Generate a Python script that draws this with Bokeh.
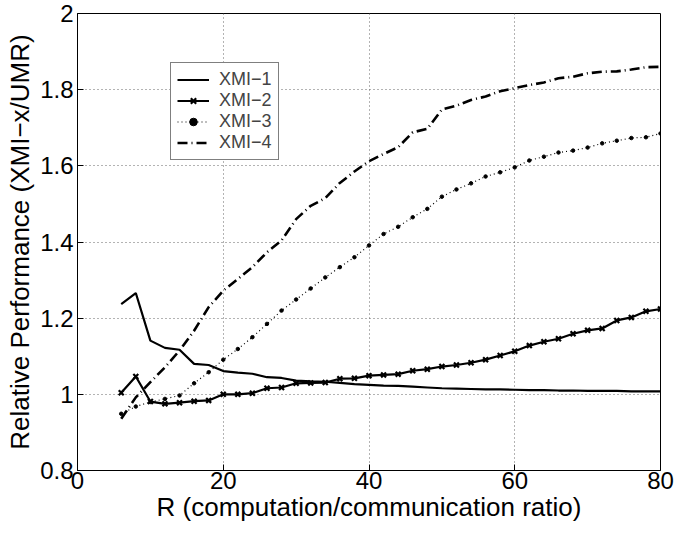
from bokeh.plotting import figure
from bokeh.models import (Range1d, FixedTicker, CustomJSTickFormatter, Legend, LegendItem)
from bokeh.embed import file_html
from bokeh.resources import INLINE

# ---- data ----
R = list(range(6, 82, 2))

xmi1 = [1.237, 1.266, 1.141, 1.122, 1.117, 1.080, 1.077, 1.061, 1.057, 1.054,
        1.045, 1.043, 1.036, 1.034, 1.033, 1.030, 1.027, 1.025, 1.023, 1.022,
        1.020, 1.018, 1.016, 1.015, 1.014, 1.013, 1.013, 1.012, 1.011, 1.011,
        1.010, 1.010, 1.009, 1.009, 1.009, 1.008, 1.008, 1.008]

xmi2 = [1.004, 1.047, 0.981, 0.975, 0.978, 0.982, 0.984, 1.000, 1.000, 1.003,
        1.016, 1.018, 1.029, 1.030, 1.031, 1.041, 1.042, 1.049, 1.051, 1.053,
        1.062, 1.066, 1.073, 1.077, 1.083, 1.091, 1.102, 1.113, 1.128, 1.138,
        1.146, 1.159, 1.168, 1.173, 1.194, 1.202, 1.218, 1.224]

xmi3 = [0.949, 0.968, 0.980, 0.988, 0.997, 1.029, 1.058, 1.091, 1.119, 1.150,
        1.185, 1.220, 1.249, 1.278, 1.307, 1.334, 1.360, 1.391, 1.421, 1.440,
        1.465, 1.487, 1.519, 1.538, 1.554, 1.572, 1.583, 1.596, 1.614, 1.624,
        1.635, 1.640, 1.648, 1.659, 1.666, 1.673, 1.675, 1.685]

xmi4 = [0.936, 0.992, 1.032, 1.071, 1.115, 1.167, 1.229, 1.272, 1.303, 1.334,
        1.373, 1.404, 1.460, 1.495, 1.515, 1.555, 1.585, 1.612, 1.631, 1.649,
        1.688, 1.697, 1.748, 1.758, 1.773, 1.782, 1.796, 1.804, 1.812, 1.819,
        1.830, 1.834, 1.843, 1.847, 1.848, 1.853, 1.859, 1.860]

labels = ["XMI\u22121", "XMI\u22122", "XMI\u22123", "XMI\u22124"]
x_ticks = [0, 20, 40, 60, 80]
y_ticks = [0.8, 1.0, 1.2, 1.4, 1.6, 1.8, 2.0]

FONT = "Liberation Sans"

p = figure(width=675, height=535, output_backend="svg", toolbar_location=None,
           x_range=Range1d(0, 80), y_range=Range1d(0.8, 2.0),
           frame_width=583, frame_height=457,
           min_border_left=77, min_border_right=15, min_border_top=13, min_border_bottom=65)
p.background_fill_color = "white"
p.border_fill_color = "white"
p.outline_line_color = "black"
p.outline_line_width = 1

fmt = CustomJSTickFormatter(code="return (Math.round(tick*10)/10).toString();")

for ax in (p.xaxis[0], p.yaxis[0]):
    ax.major_tick_in = 6
    ax.major_tick_out = 0
    ax.minor_tick_in = 0
    ax.minor_tick_out = 0
    ax.axis_line_color = "black"
    ax.major_tick_line_color = "black"
    ax.major_label_text_font = FONT
    ax.major_label_text_font_size = "24px"
    ax.major_label_text_color = "black"
    ax.axis_label_text_font = FONT
    ax.axis_label_text_font_size = "26px"
    ax.axis_label_text_font_style = "normal"
    ax.axis_label_text_color = "black"
    ax.formatter = fmt

p.xaxis[0].ticker = FixedTicker(ticks=x_ticks)
p.yaxis[0].ticker = FixedTicker(ticks=y_ticks)
p.xaxis[0].axis_label = "R (computation/communication ratio)"
p.yaxis[0].axis_label = "Relative Performance (XMI\u2212x/UMR)"
p.xaxis[0].major_label_standoff = 1
p.yaxis[0].major_label_standoff = 4
p.xaxis[0].axis_label_standoff = 0
p.yaxis[0].axis_label_standoff = 2

p.xgrid.ticker = FixedTicker(ticks=x_ticks)
p.ygrid.ticker = FixedTicker(ticks=y_ticks)
for g in (p.xgrid[0], p.ygrid[0]):
    g.grid_line_color = "#666666"
    g.grid_line_width = 1
    g.grid_line_dash = "1 3"

r1 = p.line(R, xmi1, line_color="black", line_width=2.2)
r2 = p.line(R, xmi2, line_color="black", line_width=2.2)
r2m = p.scatter(R, xmi2, marker="x", size=7, line_color="black", line_width=2.2)
r3 = p.line(R, xmi3, line_color="black", line_width=1.2, line_dash="1 3")
r3m = p.scatter(R, xmi3, marker="circle", size=3.5, fill_color="black", line_color="black")
r4 = p.line(R, xmi4, line_color="black", line_width=2.6, line_dash="10 4 1 4")

legend = Legend(items=[
    LegendItem(label=labels[0], renderers=[r1]),
    LegendItem(label=labels[1], renderers=[r2, r2m]),
    LegendItem(label=labels[2], renderers=[r3, r3m]),
    LegendItem(label=labels[3], renderers=[r4]),
], location=(93, 310))
legend.label_text_font = FONT
legend.label_text_font_size = "18px"
legend.label_height = 19
legend.glyph_height = 19
legend.glyph_width = 32
legend.spacing = 0
legend.padding = 6
legend.margin = 0
legend.border_line_color = "black"
legend.border_line_width = 1
legend.background_fill_color = "white"
legend.background_fill_alpha = 1
legend.label_standoff = 10
p.add_layout(legend)

open("out.html", "w").write(file_html(p, INLINE))
